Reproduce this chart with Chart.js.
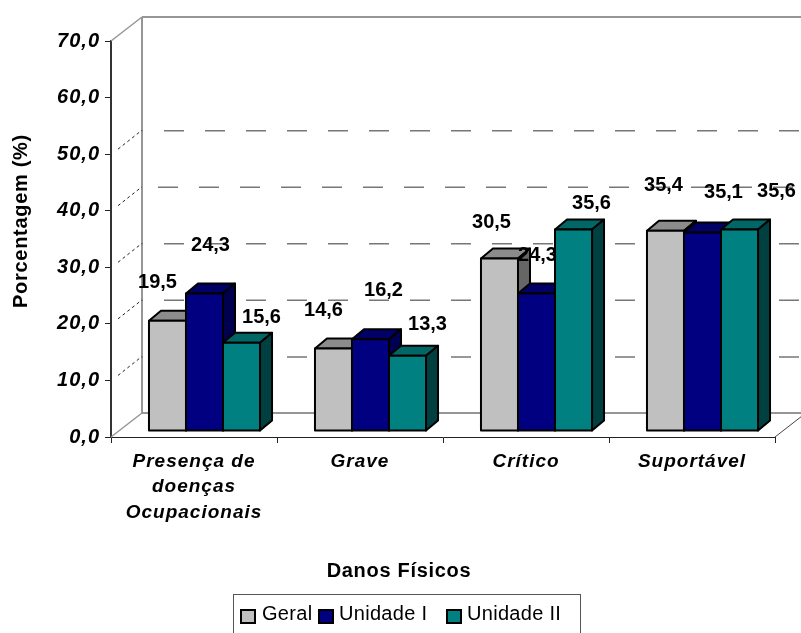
<!DOCTYPE html>
<html>
<head>
<meta charset="utf-8">
<title>Danos Físicos</title>
<script src="https://cdn.jsdelivr.net/npm/chart.js@4"></script>
<style>
  html, body { margin: 0; background: #fff; }
  canvas { display: block; }
</style>
</head>
<body>
<canvas id="chart" width="801" height="633"></canvas>
<script>
// Data
const categories = [["Presença de", "doenças", "Ocupacionais"], "Grave", "Crítico", "Suportável"];
const seriesNames = ["Geral", "Unidade I", "Unidade II"];
const geral = [19.5, 14.6, 30.5, 35.4];
const unidadeI = [24.3, 16.2, 24.3, 35.1];
const unidadeII = [15.6, 13.3, 35.6, 35.6];
const wallGridValues = [10, 20, 30, 40, 50];

// Hand placed data labels in the original, [dx, dy] from each bar's top centre
const geralLabelOffsets = [[-10, -38], [-10, -38], [-8, -36], [-2, -45]];
const unidadeILabelOffsets = [[6, -48], [13, -49], [1, -38], [21, -40]];
const unidadeIILabelOffsets = [[20, -25], [20, -31], [18, -26], [37, -38]];

const FONT = '"Liberation Sans", Arial, sans-serif';
const FRONT = { fill: ["#c0c0c0", "#000080", "#008080"] };
const TOPS = ["#8c8c8c", "#000066", "#006666"];
const SIDES = ["#666666", "#000050", "#004040"];
const labelOffsets = [geralLabelOffsets, unidadeILabelOffsets, unidadeIILabelOffsets];

// 3D look: the wall sits up and right of the axes, the bars sit between them
const WALL = { dx: 31, dy: -24 };
const BAR_SHIFT = { dx: 10.5, dy: -6 };
const BAR_DEPTH = { dx: 12, dy: -10 };

function fmt(v) {
  return v.toFixed(1).replace(".", ",");
}

function line(ctx, x1, y1, x2, y2) {
  ctx.beginPath();
  ctx.moveTo(x1, y1);
  ctx.lineTo(x2, y2);
  ctx.stroke();
}

function poly(ctx, pts, fill) {
  ctx.beginPath();
  pts.forEach((p, i) => i ? ctx.lineTo(p[0], p[1]) : ctx.moveTo(p[0], p[1]));
  ctx.closePath();
  ctx.fillStyle = fill;
  ctx.fill();
  ctx.stroke();
}

function drawWall(chart) {
  const ctx = chart.ctx;
  const ys = chart.scales.y;
  const left = chart.chartArea.left, right = chart.chartArea.right;
  const y0 = ys.getPixelForValue(0), yTop = ys.getPixelForValue(70);

  ctx.save();
  // wall edges and floor
  ctx.strokeStyle = "#969696";
  ctx.lineWidth = 2;
  line(ctx, left + WALL.dx, y0 + WALL.dy, left + WALL.dx, yTop + WALL.dy);
  line(ctx, left + WALL.dx, yTop + WALL.dy, 801, yTop + WALL.dy);
  line(ctx, left + WALL.dx, y0 + WALL.dy, 801, y0 + WALL.dy);
  ctx.lineWidth = 1.5;
  line(ctx, left, y0, left + WALL.dx, y0 + WALL.dy);
  line(ctx, left, yTop, left + WALL.dx, yTop + WALL.dy);
  ctx.strokeStyle = "#444";
  ctx.lineWidth = 1;
  line(ctx, right, y0, right + 27, y0 - 21);

  // dashed grid on the back wall, dotted on the side wall
  wallGridValues.forEach(v => {
    const y = ys.getPixelForValue(v);
    ctx.strokeStyle = "#777";
    ctx.lineWidth = 1.5;
    ctx.setLineDash([20, 21]);
    ctx.lineDashOffset = v === 40 ? -16 : -22;
    line(ctx, left + WALL.dx, y + WALL.dy + 0.5, 801, y + WALL.dy + 0.5);
    ctx.strokeStyle = "#222";
    ctx.lineWidth = 1;
    ctx.setLineDash([3, 3]);
    ctx.lineDashOffset = 0;
    line(ctx, left + 7, y - 5, left + WALL.dx, y + WALL.dy);
    ctx.setLineDash([]);
  });
  ctx.restore();
}

const bars3d = {
  id: "bars3d",
  beforeDraw(chart) {
    chart.ctx.letterSpacing = "1px";
  },
  beforeDatasetsDraw(chart) {
    const ctx = chart.ctx;
    drawWall(chart);

    // series drawn left to right so each bar covers the side of the previous one
    ctx.save();
    ctx.translate(BAR_SHIFT.dx, BAR_SHIFT.dy);
    ctx.lineJoin = "round";
    chart.data.datasets.forEach((ds, i) => {
      chart.getDatasetMeta(i).data.forEach(bar => {
        const p = bar.getProps(["x", "y", "base", "width"]);
        const l = p.x - p.width / 2, r = p.x + p.width / 2;
        ctx.strokeStyle = "#000";
        ctx.lineWidth = 2;
        poly(ctx, [[l, p.y], [l + BAR_DEPTH.dx, p.y + BAR_DEPTH.dy], [r + BAR_DEPTH.dx, p.y + BAR_DEPTH.dy], [r, p.y]], TOPS[i]);
        poly(ctx, [[r, p.y], [r + BAR_DEPTH.dx, p.y + BAR_DEPTH.dy], [r + BAR_DEPTH.dx, p.base + BAR_DEPTH.dy], [r, p.base]], SIDES[i]);
        bar.draw(ctx);
        ctx.strokeRect(l, p.y, p.width, p.base - p.y);
      });
    });

    // value labels go over all the bars
    ctx.fillStyle = "#000";
    ctx.font = "bold 20px " + FONT;
    ctx.letterSpacing = "0px";
    ctx.textAlign = "center";
    ctx.textBaseline = "middle";
    chart.data.datasets.forEach((ds, i) => {
      chart.getDatasetMeta(i).data.forEach((bar, j) => {
        const off = labelOffsets[i][j];
        ctx.fillText(fmt(ds.data[j]), bar.x + off[0], bar.y + off[1]);
      });
    });
    ctx.restore();

    drawTitles(chart);
    drawLegend(chart);
    return false; // bars are already drawn above
  }
};

function drawTitles(chart) {
  const ctx = chart.ctx;
  ctx.save();
  ctx.fillStyle = "#000";
  ctx.font = "bold 20px " + FONT;
  ctx.letterSpacing = "0.7px";
  ctx.textAlign = "center";
  ctx.textBaseline = "middle";
  ctx.fillText("Danos Físicos", 399, 571);
  ctx.translate(21, 221);
  ctx.rotate(-Math.PI / 2);
  ctx.fillText("Porcentagem (%)", 0, 0);
  ctx.restore();
}

function drawLegend(chart) {
  const ctx = chart.ctx;
  const swatchX = [241, 319, 447];
  const textX = [262, 339, 467];
  ctx.save();
  ctx.strokeStyle = "#555";
  ctx.lineWidth = 1;
  ctx.strokeRect(233.5, 594.5, 347, 50);
  ctx.font = "20px " + FONT;
  ctx.letterSpacing = "0.3px";
  ctx.textBaseline = "middle";
  seriesNames.forEach((name, i) => {
    ctx.fillStyle = FRONT.fill[i];
    ctx.strokeStyle = "#000";
    ctx.lineWidth = 2;
    ctx.fillRect(swatchX[i], 610, 14, 13);
    ctx.strokeRect(swatchX[i], 610, 14, 13);
    ctx.fillStyle = "#000";
    ctx.fillText(name, textX[i], 614);
  });
  ctx.restore();
}

function makeDataset(label, data, color) {
  return { label, data, backgroundColor: color, borderWidth: 0, categoryPercentage: 0.669, barPercentage: 1 };
}

new Chart(document.getElementById("chart"), {
  type: "bar",
  data: {
    labels: categories,
    datasets: [
      makeDataset(seriesNames[0], geral, FRONT.fill[0]),
      makeDataset(seriesNames[1], unidadeI, FRONT.fill[1]),
      makeDataset(seriesNames[2], unidadeII, FRONT.fill[2])
    ]
  },
  options: {
    responsive: false,
    animation: false,
    layout: { padding: { top: 41, right: 26, left: 0, bottom: 0 } },
    plugins: { legend: { display: false }, title: { display: false }, tooltip: { enabled: false } },
    scales: {
      x: {
        afterFit(scale) { scale.height = 196; },
        grid: { drawOnChartArea: false, tickLength: 6, color: "#222", lineWidth: 1 },
        border: { color: "#222", width: 1 },
        ticks: {
          autoSkip: false,
          maxRotation: 0,
          padding: 6,
          color: "#000",
          font: { family: FONT, size: 19, weight: "bold", style: "italic", lineHeight: 1.342 }
        }
      },
      y: {
        min: 0,
        max: 70,
        afterFit(scale) { scale.width = 111; },
        grid: { drawOnChartArea: false, tickLength: 6, color: "#222", lineWidth: 1 },
        border: { color: "#333", width: 2 },
        ticks: {
          stepSize: 10,
          padding: 5,
          color: "#000",
          font: { family: FONT, size: 20, weight: "bold", style: "italic" },
          callback: v => fmt(v)
        }
      }
    }
  },
  plugins: [bars3d]
});
</script>
</body>
</html>
